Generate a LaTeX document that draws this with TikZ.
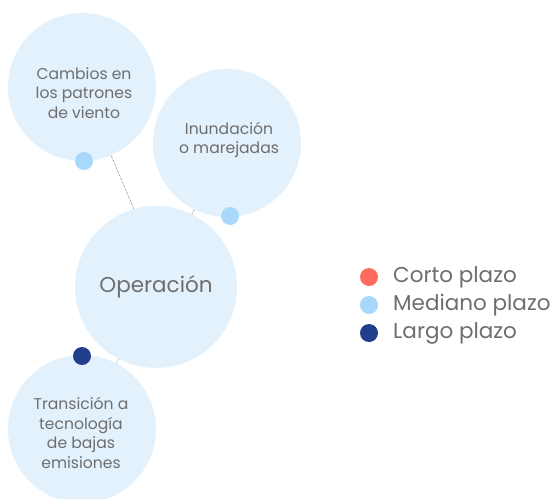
\documentclass[tikz,border=0pt]{standalone}
\usepackage{fontspec}
\setmainfont{Poppins}
\usetikzlibrary{backgrounds}
\definecolor{bubble}{HTML}{E3F1FC}
\definecolor{midblue}{HTML}{A8D8FA}
\definecolor{darkblue}{HTML}{213F8C}
\definecolor{shortred}{HTML}{FF6B5E}
\definecolor{txt}{HTML}{6E6E6E}
\tikzset{
  bubblenode/.style={circle, fill=bubble, minimum size=#1, inner sep=0pt},
  bubbletext/.style={align=center, text=txt, inner sep=0pt, font=\fontsize{15.6}{19.5}\selectfont},
  dotnode/.style={circle, fill=#1, minimum size=18pt, inner sep=0pt},
  link/.style={draw=black!80, line width=0.5pt, densely dotted},
  legtext/.style={anchor=west, text=txt, font=\fontsize{21.5}{25}\selectfont, inner sep=0pt}
}
\begin{document}
\begin{tikzpicture}[x=1pt, y=-1pt]
\useasboundingbox (0,0) rectangle (556,498);
\node[bubblenode=148pt] (cambios) at (82,87) {};
\node[bubblenode=148pt] (inund) at (227,143) {};
\node[bubblenode=162pt] (oper) at (156,287) {};
\node[bubblenode=148pt] (trans) at (82,429) {};
\begin{scope}[on background layer]
\draw[link] (cambios.center) -- ([xshift=11pt]oper.center);
\draw[link] (inund.center) -- (oper.center);
\draw[link] (trans.center) -- (oper.center);
\end{scope}
\node[bubbletext] (tcambios) at (84,93) {Cambios en\\los patrones\\de viento};
\node[bubbletext] (tinund) at (229,140) {Inundación\\o marejadas};
\node[bubbletext, font=\fontsize{21.5}{25}\selectfont] (toper) at (156,287) {Operación};
\node[bubbletext] (ttrans) at (81,433) {Transición a\\tecnología\\de bajas\\emisiones};
\node[dotnode=midblue] (d1) at (84,161) {};
\node[dotnode=midblue] (d2) at (230,216) {};
\node[dotnode=darkblue] (d3) at (82,356) {};
\node[dotnode=shortred] (l1) at (369,277) {};
\node[dotnode=midblue] (l2) at (369,305) {};
\node[dotnode=darkblue] (l3) at (369,333) {};
\node[legtext] (t1) at (393,277) {Corto plazo};
\node[legtext] (t2) at (393,305) {Mediano plazo};
\node[legtext] (t3) at (393,333) {Largo plazo};
\end{tikzpicture}
\end{document}
